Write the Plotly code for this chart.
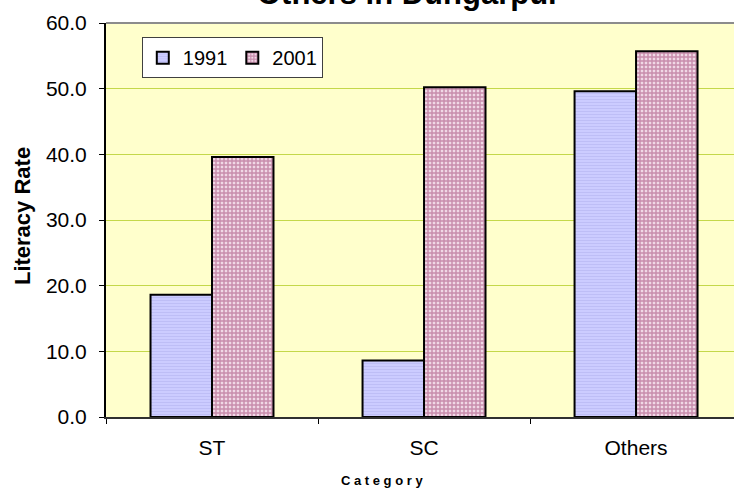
import plotly.graph_objects as go

categories = ["ST", "SC", "Others"]
years = ["1991", "2001"]
values_1991 = [18.6, 8.6, 49.6]
values_2001 = [39.6, 50.2, 55.7]
y_ticks = [0, 10, 20, 30, 40, 50, 60]

FONT = "Arial, Liberation Sans, sans-serif"
PW = 628  # plot width in px (plot area continues past the window's right edge)

fig = go.Figure()
fig.add_trace(go.Bar(
    name=years[0], x=categories, y=values_1991,
    marker=dict(color="#CCCCFF", line=dict(color="#000000", width=2),
                pattern=dict(shape="-", fgcolor="#AFAFEE", bgcolor="#CCCCFF", size=3, solidity=0.35)),
))
fig.add_trace(go.Bar(
    name=years[1], x=categories, y=values_2001,
    marker=dict(color="#C890A8", line=dict(color="#000000", width=2),
                pattern=dict(shape="+", fgcolor="#A04272", bgcolor="#F0D8E6", size=4, solidity=0.6)),
))

fig.update_layout(
    width=734, height=488,
    margin=dict(l=106, r=0, t=23, b=71, autoexpand=False),
    paper_bgcolor="#FFFFFF", plot_bgcolor="#FFFFCC",
    barmode="group", bargap=0.42, bargroupgap=0,
    font=dict(family=FONT, size=21, color="#000000"),
    showlegend=True,
    legend=dict(orientation="h", x=0.057, y=0.964, xanchor="left", yanchor="top",
                bgcolor="#FFFFFF", bordercolor="#404040", borderwidth=1,
                font=dict(family=FONT, size=20), itemwidth=30, traceorder="normal"),
)
fig.update_xaxes(
    type="category", range=[-0.5, 2.462], automargin=False,
    tickson="boundaries", ticks="outside", ticklen=5, tickcolor="#000000",
    showline=True, linecolor="#303030", linewidth=2,
    showgrid=False, ticklabelstandoff=11,
    tickfont=dict(family=FONT, size=21),
)
fig.update_yaxes(
    range=[0, 60], tickvals=y_ticks, tickformat=".1f", automargin=False,
    ticks="outside", ticklen=5, tickcolor="#000000",
    showline=True, linecolor="#000000", linewidth=2,
    showgrid=True, gridcolor="#C4D84A", gridwidth=1,
    zeroline=False, ticklabelstandoff=8,
    tickfont=dict(family=FONT, size=21),
)
# top border of plot area
fig.add_shape(type="line", xref="paper", yref="paper", x0=0, x1=1, y0=1, y1=1,
              line=dict(color="#8C8C8C", width=2))

fig.add_annotation(text="<b>Others in Dungarpur</b>", xref="paper", yref="paper",
                   x=(408 - 106) / PW, y=1, xanchor="center", yanchor="bottom", yshift=10,
                   showarrow=False, font=dict(family=FONT, size=31, color="#000000"))
fig.add_annotation(text="<b>Literacy Rate</b>", xref="paper", yref="paper",
                   x=-(106 - 22) / PW, y=0.51, xanchor="center", yanchor="middle",
                   textangle=-90, showarrow=False, font=dict(family=FONT, size=22, color="#000000"))
fig.add_annotation(text="<b>C a t e g o r y</b>", xref="paper", yref="paper",
                   x=(382 - 106) / PW, y=0, xanchor="center", yanchor="middle", yshift=-63,
                   showarrow=False, font=dict(family=FONT, size=13, color="#000000"))

fig.write_html("out.html", config={"displayModeBar": False},
               post_script="document.body.style.margin='0';")
